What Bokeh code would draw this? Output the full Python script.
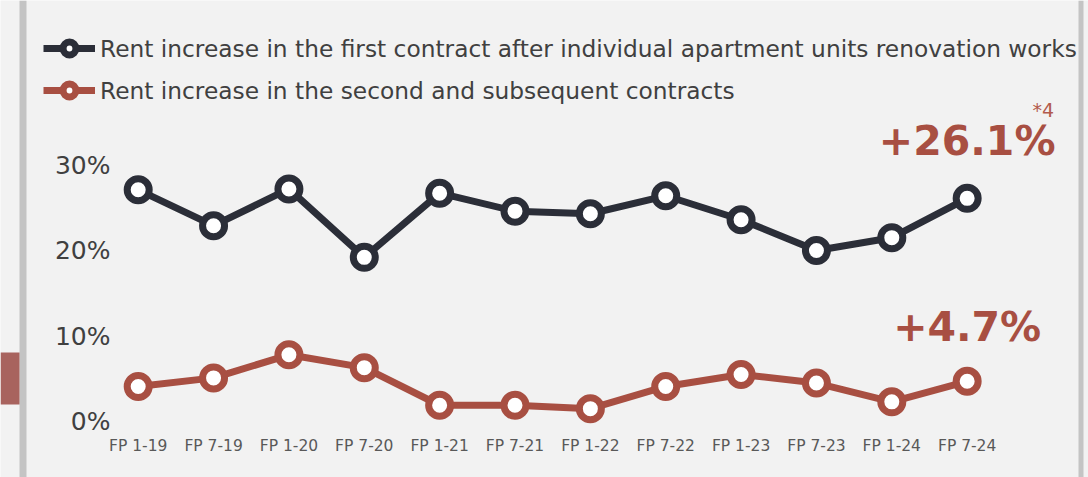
from bokeh.plotting import figure
from bokeh.models import Range1d, FixedTicker, Legend, LegendItem, Label, BoxAnnotation
from bokeh.embed import file_html
from bokeh.resources import INLINE

categories = ["FP 1-19", "FP 7-19", "FP 1-20", "FP 7-20", "FP 1-21", "FP 7-21",
              "FP 1-22", "FP 7-22", "FP 1-23", "FP 7-23", "FP 1-24", "FP 7-24"]
first_contract = [27.1, 22.9, 27.2, 19.2, 26.7, 24.6, 24.3, 26.4, 23.6, 20.0, 21.5, 26.1]
subsequent = [4.1, 5.1, 7.8, 6.3, 1.9, 1.9, 1.5, 4.1, 5.5, 4.5, 2.3, 4.7]
series_names = ["Rent increase in the first contract after individual apartment units renovation works",
                "Rent increase in the second and subsequent contracts"]
y_ticks = [0, 10, 20, 30]
y_labels = ["0%", "10%", "20%", "30%"]
footnote = "*4"

xs = list(range(len(categories)))

BG = "#f2f2f2"
DARK = "#2b2e38"
RED = "#a84f42"

p = figure(width=1088, height=477, output_backend="svg", toolbar_location=None,
           x_range=Range1d(-1.8272, 12.6101), y_range=Range1d(-6.5497, 49.24),
           min_border_left=0, min_border_right=0, min_border_top=0, min_border_bottom=0,
           background_fill_color=BG, border_fill_color=BG, outline_line_color=None)
p.xgrid.visible = False
p.ygrid.visible = False

# axes (placed inside the frame so the frame spans the whole canvas)
p.xaxis.ticker = FixedTicker(ticks=xs)
p.xaxis.major_label_overrides = {i: c for i, c in zip(xs, categories)}
p.xaxis.fixed_location = -1.0526
p.xaxis.axis_line_color = None
p.xaxis.major_tick_line_color = None
p.xaxis.major_tick_out = 0
p.xaxis.minor_tick_line_color = None
p.xaxis.major_label_standoff = 6
p.xaxis.major_label_text_font = "DejaVu Sans"
p.xaxis.major_label_text_font_size = "15.5px"
p.xaxis.major_label_text_color = "#595959"

p.yaxis.ticker = FixedTicker(ticks=y_ticks)
p.yaxis.major_label_overrides = {t: l for t, l in zip(y_ticks, y_labels)}
p.yaxis.fixed_location = -0.2614
p.yaxis.axis_line_color = None
p.yaxis.major_tick_line_color = None
p.yaxis.major_tick_out = 0
p.yaxis.minor_tick_line_color = None
p.yaxis.major_label_standoff = 8
p.yaxis.major_label_text_font = "DejaVu Sans"
p.yaxis.major_label_text_font_size = "25px"
p.yaxis.major_label_text_color = "#404040"

# decorations (slide frame)
def screen_box(l, r, t, b, color):
    return BoxAnnotation(left=l, right=r, top=t, bottom=b,
                         left_units="screen", right_units="screen",
                         top_units="screen", bottom_units="screen",
                         fill_color=color, fill_alpha=1, line_color=None)

p.add_layout(screen_box(19, 26, 477, 0, "#c4c4c4"))
p.add_layout(screen_box(1078, 1083, 477, 0, "#c4c4c4"))
p.add_layout(screen_box(0, 19, 125, 73, "#a8635e"))

# series
l1 = p.line(xs, first_contract, line_color=DARK, line_width=7, line_join="round")
s1 = p.scatter(xs, first_contract, marker="circle", size=22, fill_color="white",
               line_color=DARK, line_width=7)
l2 = p.line(xs, subsequent, line_color=RED, line_width=7, line_join="round")
s2 = p.scatter(xs, subsequent, marker="circle", size=22, fill_color="white",
               line_color=RED, line_width=7)

legend = Legend(items=[LegendItem(label=series_names[0], renderers=[l1, s1]),
                       LegendItem(label=series_names[1], renderers=[l2, s2])],
                location=(43, 371), orientation="vertical",
                glyph_width=52, glyph_height=32, spacing=10, padding=0, margin=0,
                label_standoff=5, label_text_font="DejaVu Sans",
                label_text_font_size="23.3px", label_text_color="#404040",
                border_line_color=None, background_fill_alpha=0)
p.add_layout(legend)

# value callouts
last = len(xs) - 1
p.add_layout(Label(x=xs[last], y=first_contract[last], text=f"+{first_contract[last]}%",
                   text_align="center", text_baseline="alphabetic", y_offset=57,
                   text_font="DejaVu Sans", text_font_style="bold", text_font_size="41px",
                   text_color=RED))
p.add_layout(Label(x=xs[last], y=first_contract[last], text=footnote,
                   text_align="right", text_baseline="alphabetic", x_offset=87, y_offset=88,
                   text_font="DejaVu Sans", text_font_size="19px", text_color="#b25b4d"))
p.add_layout(Label(x=xs[last], y=subsequent[last], text=f"+{subsequent[last]}%",
                   text_align="center", text_baseline="alphabetic", y_offset=54,
                   text_font="DejaVu Sans", text_font_style="bold", text_font_size="41px",
                   text_color=RED))

open("out.html", "w").write(file_html(p, INLINE))
